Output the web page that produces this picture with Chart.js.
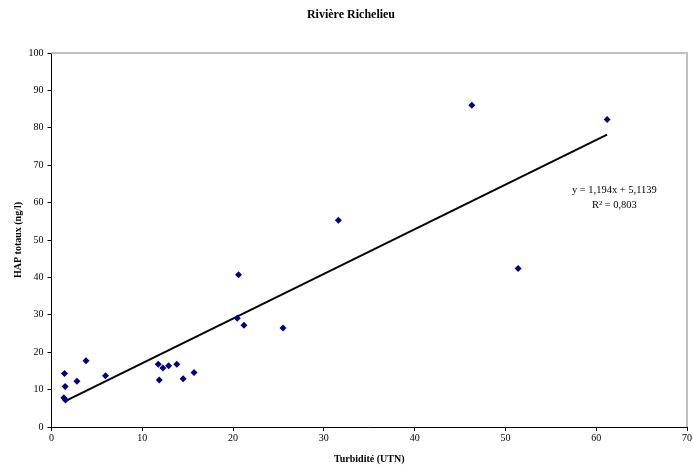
<!DOCTYPE html>
<html>
<head>
<meta charset="utf-8">
<script src="https://cdn.jsdelivr.net/npm/chart.js@4"></script>
<style>
  body { margin: 0; background: #fff; }
  #wrap { width: 693px; height: 465px; }
</style>
</head>
<body>
<div id="wrap"><canvas id="scatterChart" width="693" height="465"></canvas></div>
<script>
// turbidity (UTN) and total PAH (ng/l)
let turbidite = [1.36, 1.54, 1.5, 1.43, 2.8, 3.8, 5.95, 11.76, 11.87, 12.27, 12.9, 13.8, 14.5, 15.7, 20.6, 20.46, 21.2, 25.5, 31.6, 46.3, 61.2, 51.4]
let hapTotaux = [7.8, 7.2, 10.8, 14.3, 12.2, 17.7, 13.7, 16.8, 12.6, 15.8, 16.4, 16.8, 12.9, 14.6, 40.7, 29.1, 27.2, 26.5, 55.3, 86.0, 82.2, 42.4]

// linear trend as printed on the chart
let pente = 1.194
let ordonnee = 5.1139
let trendX = [1.45, 61.2]
let equationLines = ["y = 1,194x + 5,1139", "R\u00b2 = 0,803"]

let titre = "Rivière Richelieu"
let xTicks = [0, 10, 20, 30, 40, 50, 60, 70]
let yTicks = [0, 10, 20, 30, 40, 50, 60, 70, 80, 90, 100]

let points = turbidite.map((x, i) => ({ x: x, y: hapTotaux[i] }))
let trend = trendX.map(x => ({ x: x, y: pente * x + ordonnee }))

let serif = "'Liberation Serif', 'Times New Roman', serif"

// title, gray frame on top/right of plot area, equation label
let extras = {
    id: "extras",
    afterDraw(chart) {
        let ctx = chart.ctx
        let a = chart.chartArea
        ctx.save()
        ctx.strokeStyle = "#c0c0c0"
        ctx.lineWidth = 2
        ctx.beginPath()
        ctx.moveTo(a.left, a.top)
        ctx.lineTo(a.right, a.top)
        ctx.lineTo(a.right, a.bottom)
        ctx.stroke()

        ctx.fillStyle = "#000"
        ctx.textAlign = "center"
        ctx.textBaseline = "middle"
        ctx.font = "bold 12px " + serif
        ctx.fillText(titre, 351, 15)

        let sx = chart.scales.x
        let sy = chart.scales.y
        ctx.font = "10.5px " + serif
        ctx.fillText(equationLines[0], sx.getPixelForValue(62.0), sy.getPixelForValue(63.3))
        ctx.fillText(equationLines[1], sx.getPixelForValue(62.0), sy.getPixelForValue(59.3))
        ctx.restore()
    }
}

let CHART = document.getElementById("scatterChart")
let scatterChart = new Chart(CHART, {
    type: "scatter",
    data: {
        datasets: [
            {
                label: "HAP totaux",
                data: points,
                pointStyle: "rectRot",
                pointRadius: 3.5,
                backgroundColor: "#000080",
                borderColor: "#000080",
                borderWidth: 0,
                order: 1
            },
            {
                label: "Tendance",
                type: "line",
                data: trend,
                borderColor: "#000",
                borderWidth: 2,
                pointRadius: 0,
                fill: false,
                order: 2
            }
        ]
    },
    options: {
        responsive: false,
        animation: false,
        layout: { padding: { left: 0, right: 6, top: 53, bottom: 0 } },
        plugins: {
            legend: { display: false },
            tooltip: { enabled: false },
            title: { display: false }
        },
        scales: {
            x: {
                type: "linear",
                min: 0,
                max: 70,
                afterBuildTicks: s => { s.ticks = xTicks.map(v => ({ value: v })) },
                afterFit: s => { s.height = 38 },
                grid: { drawOnChartArea: false, drawTicks: true, tickLength: 4, color: "#000" },
                border: { color: "#000", width: 1 },
                ticks: { color: "#000", font: { family: serif, size: 10 }, padding: 1, maxRotation: 0 },
                title: {
                    display: true,
                    text: "Turbidité (UTN)",
                    color: "#000",
                    font: { family: serif, size: 10, weight: "bold" },
                    padding: { top: 0, bottom: 0 }
                }
            },
            y: {
                type: "linear",
                min: 0,
                max: 100,
                afterBuildTicks: s => { s.ticks = yTicks.map(v => ({ value: v })) },
                afterFit: s => { s.width = 51.5 },
                grid: { drawOnChartArea: false, drawTicks: true, tickLength: 4, color: "#000" },
                border: { color: "#000", width: 1 },
                ticks: { color: "#000", font: { family: serif, size: 10 }, padding: 4 },
                title: {
                    display: true,
                    text: "HAP totaux (ng/l)",
                    color: "#000",
                    font: { family: serif, size: 10, weight: "bold" },
                    padding: { top: 12, bottom: 0 }
                }
            }
        }
    },
    plugins: [extras]
})
</script>
</body>
</html>
